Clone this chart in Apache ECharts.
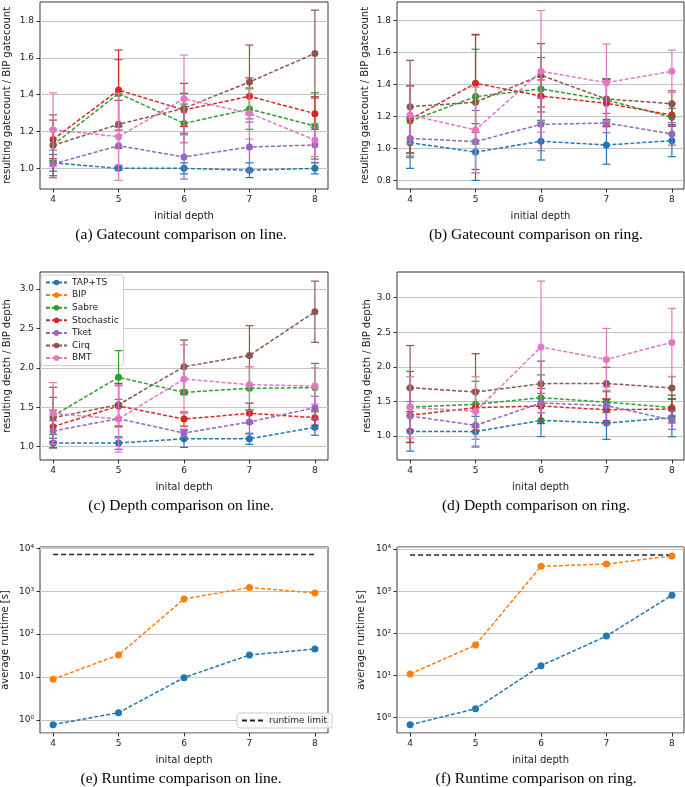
<!DOCTYPE html>
<html>
<head>
<meta charset="utf-8">
<script src="https://cdn.jsdelivr.net/npm/echarts@6/dist/echarts.min.js"></script>
<style>
  html, body { margin: 0; padding: 0; background: #fff; }
  #chart { width: 685px; height: 787px; }
</style>
</head>
<body>
<div id="chart"></div>
<script>
// x values and legend entries
const depths = [4, 5, 6, 7, 8];
const methods = ['TAP+TS', 'Sabre', 'Stochastic', 'Tket', 'Cirq', 'BMT'];
const legendNames = ['TAP+TS', 'BIP', 'Sabre', 'Stochastic', 'Tket', 'Cirq', 'BMT'];

// (a) gatecount ratio, line -- rows in the order of `methods`
const gateLineMean = [
  [1.03, 1.00, 1.00, 0.99, 1.00],
  [1.127, 1.407, 1.244, 1.322, 1.23],
  [1.157, 1.425, 1.317, 1.391, 1.297],
  [1.024, 1.123, 1.062, 1.116, 1.127],
  [1.125, 1.239, 1.326, 1.469, 1.624],
  [1.21, 1.172, 1.378, 1.299, 1.154]
];
const gateLineErr = [
  [0.045, 0.01, 0.03, 0.04, 0.03],
  [0.085, 0.183, 0.105, 0.11, 0.18],
  [0.105, 0.217, 0.09, 0.1, 0.085],
  [0.075, 0.105, 0.12, 0.135, 0.095],
  [0.165, 0.13, 0.135, 0.2, 0.235],
  [0.2, 0.237, 0.237, 0.14, 0.09]
];

// (b) gatecount ratio, ring
const gateRingMean = [
  [1.035, 0.977, 1.044, 1.021, 1.048],
  [1.17, 1.323, 1.371, 1.302, 1.194],
  [1.181, 1.406, 1.327, 1.281, 1.208],
  [1.062, 1.042, 1.15, 1.158, 1.09],
  [1.26, 1.288, 1.456, 1.308, 1.279],
  [1.208, 1.115, 1.481, 1.41, 1.481]
];
const gateRingErr = [
  [0.16, 0.177, 0.117, 0.12, 0.1],
  [0.218, 0.296, 0.196, 0.131, 0.056],
  [0.21, 0.306, 0.1, 0.146, 0.07],
  [0.12, 0.195, 0.165, 0.06, 0.07],
  [0.29, 0.42, 0.198, 0.127, 0.08],
  [0.18, 0.267, 0.38, 0.242, 0.133]
];

// (c) depth ratio, line
const depthLineMean = [
  [1.047, 1.047, 1.10, 1.10, 1.245],
  [1.39, 1.88, 1.69, 1.74, 1.75],
  [1.254, 1.516, 1.35, 1.423, 1.368],
  [1.199, 1.355, 1.173, 1.313, 1.495],
  [1.368, 1.533, 2.015, 2.158, 2.712],
  [1.423, 1.351, 1.858, 1.786, 1.77]
];
const depthLineErr = [
  [0.06, 0.08, 0.11, 0.07, 0.1],
  [0.236, 0.338, 0.03, 0.275, 0.307],
  [0.21, 0.264, 0.09, 0.127, 0.097],
  [0.13, 0.245, 0.05, 0.152, 0.145],
  [0.385, 0.27, 0.338, 0.377, 0.388],
  [0.39, 0.42, 0.435, 0.23, 0.23]
];

// (d) depth ratio, ring
const depthRingMean = [
  [1.067, 1.063, 1.226, 1.188, 1.265],
  [1.419, 1.458, 1.554, 1.49, 1.41],
  [1.30, 1.41, 1.434, 1.38, 1.39],
  [1.289, 1.154, 1.477, 1.44, 1.231],
  [1.699, 1.636, 1.757, 1.761, 1.694],
  [1.414, 1.357, 2.287, 2.108, 2.354]
];
const depthRingErr = [
  [0.286, 0.222, 0.235, 0.236, 0.275],
  [0.515, 0.334, 0.33, 0.15, 0.12],
  [0.39, 0.255, 0.255, 0.16, 0.2],
  [0.21, 0.2, 0.14, 0.27, 0.135],
  [0.61, 0.554, 0.327, 0.232, 0.164],
  [0.444, 0.5, 0.953, 0.448, 0.492]
];

// (e), (f) average runtime in seconds
const runtimeLineBip = [8.9, 32.7, 660, 1212, 910];
const runtimeLineTap = [0.78, 1.48, 9.7, 32.7, 45];
const runtimeRingBip = [10.9, 52.9, 3880, 4410, 6820];
const runtimeRingTap = [0.68, 1.63, 17.1, 86.5, 797];
const runtimeLimit = [7200, 7200];
const runtimeLimitX = [4, 8];

// y tick labels
const gateLineTicks = [1.0, 1.2, 1.4, 1.6, 1.8];
const gateRingTicks = [0.8, 1.0, 1.2, 1.4, 1.6, 1.8];
const depthTicks = [1.0, 1.5, 2.0, 2.5, 3.0];

const captions = [
  '(a) Gatecount comparison on line.',
  '(b) Gatecount comparison on ring.',
  '(c) Depth comparison on line.',
  '(d) Depth comparison on ring.',
  '(e) Runtime comparison on line.',
  '(f) Runtime comparison on ring.'
];

// tab10 colours
const colorOf = {
  'TAP+TS': '#1f77b4', 'BIP': '#ff7f0e', 'Sabre': '#2ca02c', 'Stochastic': '#d62728',
  'Tket': '#9467bd', 'Cirq': '#8c564b', 'BMT': '#e377c2'
};

const sans = 'DejaVu Sans';
const txt = '#1a1a1a';
const gridGray = '#c4c4c4';
const sup = { '0': '\u2070', '1': '\u00b9', '2': '\u00b2', '3': '\u00b3', '4': '\u2074' };

// panel layout
const panels = [
  { left: 40, top: 2, width: 288, height: 187, xMax: 8.2, yMin: 0.888, yMax: 1.903, ticks: gateLineTicks,
    yName: 'resulting gatecount / BIP gatecount', xName: 'initial depth', yGap: 28 },
  { left: 397, top: 2, width: 287, height: 187, xMax: 8.185, yMin: 0.746, yMax: 1.914, ticks: gateRingTicks,
    yName: 'resulting gatecount / BIP gatecount', xName: 'initial depth', yGap: 27 },
  { left: 40, top: 272, width: 288, height: 188, xMax: 8.2, yMin: 0.831, yMax: 3.216, ticks: depthTicks,
    yName: 'resulting depth / BIP depth', xName: 'inital depth', yGap: 28 },
  { left: 397, top: 272, width: 287, height: 188, xMax: 8.185, yMin: 0.653, yMax: 3.372, ticks: depthTicks,
    yName: 'resulting depth / BIP depth', xName: 'inital depth', yGap: 25 },
  { left: 40, top: 547, width: 288, height: 186, xMax: 8.2, yMin: 0.498, yMax: 10700, log: true,
    yName: 'average runtime [s]', xName: 'inital depth', yGap: 30 },
  { left: 397, top: 547, width: 287, height: 186, xMax: 8.185, yMin: 0.434, yMax: 11150, log: true,
    yName: 'average runtime [s]', xName: 'inital depth', yGap: 31 }
];

const grid = [], xAxis = [], yAxis = [], series = [], graphic = [];

panels.forEach((p, i) => {
  grid.push({
    left: p.left, top: p.top, width: p.width, height: p.height,
    show: true, borderColor: '#000', borderWidth: 0.8, backgroundColor: 'transparent',
    containLabel: false, outerBoundsMode: 'none'
  });
  xAxis.push({
    gridIndex: i, type: 'value', min: 3.8, max: p.xMax,
    axisLine: { show: false }, splitLine: { show: false },
    axisTick: { customValues: depths, length: 3.5, lineStyle: { color: '#000', width: 0.8 } },
    axisLabel: { customValues: depths, fontSize: 9, fontFamily: sans, color: txt, margin: 6 },
    name: p.xName, nameLocation: 'middle', nameGap: 22,
    nameTextStyle: { fontSize: 10, fontFamily: sans, color: txt }
  });
  const y = {
    gridIndex: i, type: p.log ? 'log' : 'value', min: p.yMin, max: p.yMax, splitNumber: 5,
    axisLine: { show: false },
    axisTick: { length: 3.5, lineStyle: { color: '#000', width: 0.8 } },
    axisLabel: { fontSize: 9, fontFamily: sans, color: txt, margin: 6 },
    splitLine: { show: !!p.log, lineStyle: { color: gridGray, width: 1 } },
    name: p.yName, nameLocation: 'middle', nameGap: p.yGap, nameRotate: 90,
    nameTextStyle: { fontSize: 10, fontFamily: sans, color: txt }
  };
  if (p.log) {
    y.logBase = 10;
    y.axisLabel.showMinLabel = false;
    y.axisLabel.showMaxLabel = false;
    y.axisLabel.formatter = v => '10' + String(Math.round(Math.log10(v))).split('').map(c => sup[c]).join('');
  } else {
    y.axisTick.customValues = p.ticks;
    y.axisLabel.customValues = p.ticks;
    y.axisLabel.formatter = v => v.toFixed(1);
    // horizontal grid lines at the tick values
    series.push({
      type: 'line', xAxisIndex: i, yAxisIndex: i, data: [], silent: true, z: 1,
      markLine: {
        silent: true, symbol: ['none', 'none'], animation: false, z: 1,
        label: { show: false },
        lineStyle: { color: gridGray, type: 'solid', width: 1 },
        emphasis: { disabled: true },
        data: p.ticks.map(v => ({ yAxis: v }))
      }
    });
  }
  yAxis.push(y);

  const col = i % 2;
  graphic.push({
    type: 'text', x: col === 0 ? 181 : 536, y: p.top + p.height + 46,
    style: {
      text: captions[i], fill: '#000', font: '15.5px "Liberation Serif", serif',
      textAlign: 'center', textVerticalAlign: 'middle'
    }
  });
});

function renderErr(params, api) {
  const x = api.value(0);
  const lo = api.coord([x, api.value(1)]);
  const hi = api.coord([x, api.value(2)]);
  const st = { stroke: api.visual('color'), lineWidth: 1.2 };
  const w = 4;
  return {
    type: 'group',
    children: [
      { type: 'line', shape: { x1: lo[0], y1: lo[1], x2: hi[0], y2: hi[1] }, style: st },
      { type: 'line', shape: { x1: lo[0] - w, y1: lo[1], x2: lo[0] + w, y2: lo[1] }, style: st },
      { type: 'line', shape: { x1: hi[0] - w, y1: hi[1], x2: hi[0] + w, y2: hi[1] }, style: st }
    ]
  };
}

function lineSeries(name, i, ys, z) {
  return {
    type: 'line', name: name, xAxisIndex: i, yAxisIndex: i,
    data: depths.map((d, k) => [d, ys[k]]),
    symbol: 'circle', symbolSize: 7, showSymbol: true,
    lineStyle: { color: colorOf[name], width: 1.5, type: [4, 2] },
    itemStyle: { color: colorOf[name] },
    emphasis: { disabled: true }, animation: false, z: z
  };
}

function ratioPanel(i, mean, err) {
  methods.forEach((m, j) => {
    series.push({
      type: 'custom', xAxisIndex: i, yAxisIndex: i, renderItem: renderErr,
      encode: { x: 0, y: [1, 2] },
      itemStyle: { color: colorOf[m] },
      data: depths.map((d, k) => [d, mean[j][k] - err[j][k], mean[j][k] + err[j][k]]),
      animation: false, z: 2 + j * 2, silent: true
    });
    series.push(lineSeries(m, i, mean[j], 3 + j * 2));
  });
}

ratioPanel(0, gateLineMean, gateLineErr);
ratioPanel(1, gateRingMean, gateRingErr);
ratioPanel(2, depthLineMean, depthLineErr);
ratioPanel(3, depthRingMean, depthRingErr);
// BIP appears in the legend of (c) only
series.push({ type: 'line', name: 'BIP', xAxisIndex: 2, yAxisIndex: 2, data: [],
  symbol: 'circle', symbolSize: 7, lineStyle: { color: colorOf['BIP'], width: 1.5, type: [4, 2] },
  itemStyle: { color: colorOf['BIP'] } });

[[4, runtimeLineTap, runtimeLineBip], [5, runtimeRingTap, runtimeRingBip]].forEach(([i, tap, bip]) => {
  series.push({
    type: 'line', name: 'runtime limit', xAxisIndex: i, yAxisIndex: i,
    data: runtimeLimitX.map((d, k) => [d, runtimeLimit[k]]),
    symbol: 'none', lineStyle: { color: '#222', width: 1.5, type: [5, 3] },
    itemStyle: { color: '#222' }, animation: false, z: 2
  });
  series.push(lineSeries('TAP+TS', i, tap, 3));
  series.push(lineSeries('BIP', i, bip, 4));
});

const legendText = { fontSize: 9, fontFamily: sans, color: txt };
const option = {
  backgroundColor: '#fff',
  animation: false,
  grid, xAxis, yAxis, series, graphic,
  legend: [
    {
      data: legendNames, orient: 'vertical', left: 41, top: 275,
      itemWidth: 21, itemHeight: 7, itemGap: 3.6, padding: [3, 5, 3, 4],
      backgroundColor: 'rgba(255,255,255,0.85)', borderColor: '#cccccc', borderWidth: 1, borderRadius: 3,
      selectedMode: false, textStyle: legendText
    },
    {
      data: [{ name: 'runtime limit', itemStyle: { opacity: 0 } }], left: 237, top: 713,
      itemWidth: 22, itemHeight: 6, padding: [3, 5, 3, 4],
      backgroundColor: 'rgba(255,255,255,0.85)', borderColor: '#cccccc', borderWidth: 1, borderRadius: 3,
      selectedMode: false, textStyle: legendText
    }
  ]
};

const myChart = echarts.init(document.getElementById('chart'));
myChart.setOption(option);
window.onresize = function () {
  myChart.resize();
};
</script>
</body>
</html>
